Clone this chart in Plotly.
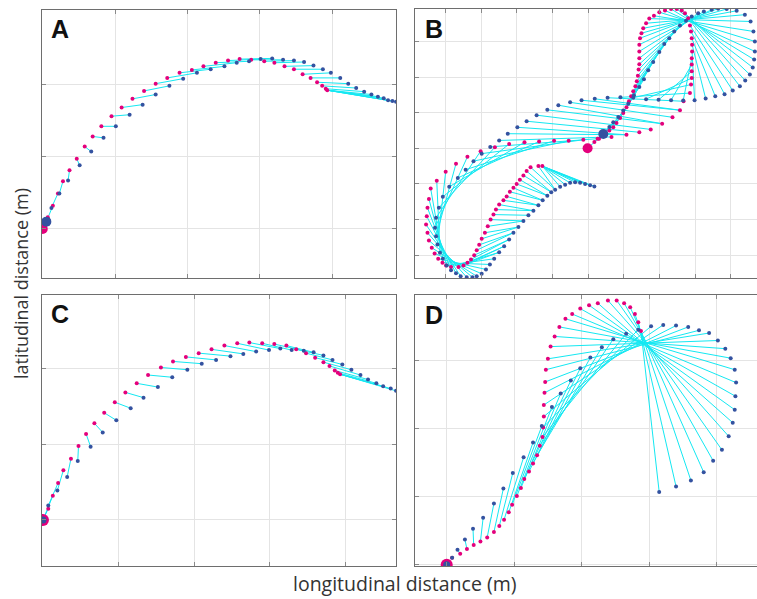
import plotly.graph_objects as go

# ---------------- Panel A ----------------
A_mag_x = [0.00,0.07,0.14,0.21,0.28,0.37,0.47,0.58,0.69,0.81,0.95,1.09,1.24,1.40,1.56,1.72,1.89,2.06,2.22,2.39,2.56,2.72,2.88,3.06,3.20,3.34,3.47,3.59,3.70,3.79,3.86,3.91,3.93]
A_mag_y = [0.00,0.16,0.32,0.49,0.66,0.81,0.97,1.14,1.28,1.42,1.56,1.68,1.80,1.91,2.01,2.09,2.16,2.20,2.25,2.30,2.33,2.35,2.34,2.32,2.30,2.25,2.21,2.14,2.09,2.03,1.98,1.94,1.92]
A_blu_x = [0.05,0.12,0.23,0.35,0.51,0.67,0.84,1.01,1.20,1.38,1.56,1.75,1.94,2.13,2.32,2.51,2.68,2.85,3.01,3.17,3.32,3.47,3.61,3.74,3.87,3.98,4.11,4.22,4.33,4.44,4.54,4.63,4.71,4.77,4.83,4.88]
A_blu_y = [0.10,0.29,0.49,0.67,0.88,1.07,1.26,1.42,1.58,1.72,1.86,1.98,2.08,2.16,2.21,2.25,2.30,2.32,2.35,2.36,2.34,2.33,2.31,2.26,2.21,2.16,2.09,2.01,1.95,1.90,1.86,1.83,1.81,1.78,1.77,1.76]
# sight-line pairing anchors: (magenta index, blue index)
A_pairs = [(0, 0), (2, 0), (32, 30), (32, 35)]

# ---------------- Panel B ----------------
B_mag_x = [-0.02,0.17,0.30,0.44,0.59,0.70,0.79,0.89,0.98,1.07,1.14,1.20,1.26,1.32,1.36,1.39,1.41,1.43,1.43,1.43,1.43,1.45,1.49,1.54,1.62,1.71,1.84,1.99,2.15,2.32,2.48,2.62,2.71,2.80,2.85,2.88,2.90,2.91,2.91,2.90,2.90,2.90,2.90,2.88,2.85,
           2.67,2.57,2.36,2.07,1.75,1.43,1.07,0.65,0.26,-0.14,-0.55,-0.96,-1.38,-1.79,-2.22,-2.62,-3.02,-3.39,-3.71,-4.00,-4.25,-4.42,
           -4.47,-4.51,-4.53,-4.55,-4.51,-4.47,-4.39,-4.31,-4.21,-4.09,-3.99,-3.85,-3.64,-3.50,-3.39,-3.29,-3.20,-3.13,-3.06,-2.99,-2.90,-2.82,-2.74,-2.66,-2.59,-2.50,-2.38,-2.29,-2.20,-2.10,-2.01,-1.92,-1.82,-1.73,-1.62,-1.40,-1.29]
B_mag_y = [0.00,0.18,0.27,0.38,0.50,0.59,0.71,0.85,0.99,1.15,1.32,1.46,1.60,1.74,1.88,2.04,2.21,2.36,2.53,2.72,2.91,3.09,3.23,3.37,3.51,3.64,3.72,3.82,3.87,3.91,3.91,3.87,3.79,3.65,3.45,3.28,3.09,2.91,2.72,2.53,2.35,2.16,1.97,1.79,1.55,
           1.32,1.07,0.87,0.69,0.53,0.45,0.38,0.32,0.27,0.24,0.21,0.21,0.19,0.17,0.12,0.03,-0.08,-0.24,-0.43,-0.66,-0.91,-1.13,
           -1.42,-1.67,-1.91,-2.14,-2.37,-2.59,-2.79,-2.95,-3.10,-3.21,-3.29,-3.33,-3.33,-3.29,-3.21,-3.12,-3.00,-2.86,-2.71,-2.54,-2.37,-2.19,-2.00,-1.86,-1.72,-1.58,-1.46,-1.35,-1.22,-1.11,-1.00,-0.88,-0.76,-0.64,-0.53,-0.50,-0.50]
B_blu_x = [0.42,0.59,0.70,0.84,0.98,1.12,1.28,1.43,1.56,1.68,1.82,1.99,2.13,2.27,2.41,2.57,2.74,
           2.90,3.08,3.24,3.46,3.64,3.88,4.16,4.39,4.55,4.63,4.67,4.67,4.65,4.61,4.53,4.40,4.25,4.05,3.82,3.56,3.29,2.98,
           2.66,2.32,1.97,1.62,1.26,0.90,0.54,0.18,-0.19,-0.51,
           -0.84,-1.15,-1.45,-1.73,-1.99,-2.26,-2.50,-2.75,-2.99,-3.22,-3.44,-3.66,-3.90,
           -4.08,-4.19,-4.27,-4.30,-4.27,-4.23,-4.16,-4.08,-3.97,-3.85,-3.71,-3.58,-3.41,-3.25,-3.13,-2.99,-2.87,-2.76,-2.64,-2.50,-2.36,-2.22,-2.10,-1.96,-1.82,-1.68,-1.54,-1.40,-1.28,-1.15,-1.04,-0.93,-0.79,-0.65,-0.51,-0.37,-0.23,-0.09,0.05,0.17]
B_blu_y = [0.40,0.60,0.73,0.88,1.06,1.25,1.49,1.72,1.94,2.19,2.42,2.70,2.93,3.09,3.28,3.45,3.58,
           3.70,3.79,3.84,3.89,3.92,3.91,3.86,3.75,3.56,3.28,3.00,2.72,2.49,2.27,2.07,1.90,1.74,1.62,1.52,1.46,1.40,1.35,
           1.34,1.35,1.36,1.38,1.42,1.43,1.42,1.39,1.35,1.29,
           1.21,1.08,0.93,0.76,0.59,0.41,0.22,0.04,-0.15,-0.36,-0.60,-0.83,-1.08,
           -1.36,-1.67,-1.95,-2.23,-2.47,-2.70,-2.93,-3.10,-3.29,-3.42,-3.51,-3.59,-3.62,-3.62,-3.59,-3.52,-3.40,-3.26,-3.10,-2.92,-2.75,-2.56,-2.37,-2.21,-2.04,-1.88,-1.75,-1.60,-1.46,-1.33,-1.23,-1.16,-1.08,-1.02,-0.97,-0.95,-0.97,-1.00,-1.04,-1.07]
B_pairs = [(0, 0), (30, 30), (45, 45), (52, 55), (77, 80), (103, 94), (103, 101)]

# ---------------- Panel C ----------------
C_mag_x = [0.00,0.07,0.13,0.20,0.27,0.37,0.47,0.57,0.68,0.81,0.95,1.09,1.24,1.39,1.56,1.72,1.89,2.06,2.23,2.40,2.57,2.73,2.90,3.06,3.22,3.35,3.48,3.60,3.71,3.79,3.86,3.90,3.93]
C_mag_y = [0.00,0.15,0.32,0.49,0.66,0.81,0.98,1.14,1.28,1.42,1.56,1.69,1.81,1.92,2.02,2.10,2.16,2.21,2.26,2.31,2.34,2.35,2.34,2.33,2.31,2.26,2.21,2.15,2.09,2.04,1.98,1.95,1.93]
C_blu_x = [0.00,0.07,0.19,0.32,0.46,0.63,0.79,0.97,1.16,1.33,1.52,1.71,1.91,2.10,2.29,2.48,2.65,2.82,2.99,3.14,3.29,3.45,3.58,3.71,3.83,3.96,4.08,4.20,4.30,4.41,4.50,4.60,4.67]
C_blu_y = [0.00,0.19,0.39,0.57,0.78,0.97,1.16,1.32,1.48,1.62,1.76,1.89,1.99,2.07,2.12,2.17,2.20,2.23,2.25,2.27,2.25,2.24,2.22,2.18,2.12,2.06,1.99,1.92,1.86,1.81,1.77,1.74,1.71]
C_pairs = [(0, 0), (2, 0), (32, 30), (32, 32)]

# ---------------- Panel D ----------------
D_mag_x = [0.00,0.08,0.20,0.30,0.40,0.50,0.60,0.70,0.78,0.85,0.92,0.97,1.04,1.10,1.15,1.22,1.28,1.34,1.38,1.42,1.43,1.44,1.44,1.45,1.46,1.47,1.50,1.54,1.60,1.67,1.76,1.86,1.98,2.11,2.24,2.39,2.52,2.63,2.72,2.79,2.84,2.88]
D_mag_y = [0.00,0.10,0.16,0.23,0.29,0.34,0.40,0.48,0.57,0.66,0.77,0.88,1.01,1.13,1.26,1.37,1.49,1.61,1.75,1.88,2.02,2.18,2.35,2.53,2.69,2.87,3.03,3.21,3.36,3.50,3.62,3.69,3.77,3.82,3.85,3.89,3.89,3.85,3.79,3.69,3.57,3.44]
D_blu_x = [0.00,0.08,0.16,0.27,0.39,0.54,0.70,0.84,0.98,1.14,1.28,1.41,1.56,1.69,1.84,1.98,2.13,2.30,2.47,2.66,2.84,3.03,3.21,3.40,3.58,3.74,3.89,4.02,4.13,4.21,4.27,4.29,4.28,4.27,4.24,4.18,4.08,3.95,3.81,3.62,3.40,3.15]
D_blu_y = [0.00,0.10,0.22,0.37,0.53,0.69,0.90,1.12,1.35,1.58,1.80,2.04,2.32,2.52,2.71,2.89,3.05,3.20,3.32,3.40,3.46,3.51,3.53,3.52,3.50,3.45,3.41,3.30,3.18,3.04,2.87,2.68,2.48,2.28,2.09,1.89,1.69,1.53,1.36,1.24,1.15,1.07]
D_pairs = [(0, 0), (41, 41)]

MAG = "rgb(228,0,124)"
BLU = "rgb(52,82,160)"
CYA = "rgb(20,232,242)"

W, H = 757, 599
def px_dom_x(a, b):
    return [a / W, b / W]
def px_dom_y(top, bot):
    return [1 - bot / H, 1 - top / H]

def expand_pairs(anchors):
    out = []
    for (m0, b0), (m1, b1) in zip(anchors[:-1], anchors[1:]):
        n = max(abs(m1 - m0), abs(b1 - b0))
        for s in range(n):
            out.append((round(m0 + (m1 - m0) * s / n), round(b0 + (b1 - b0) * s / n)))
    out.append(anchors[-1])
    return out

panels = [
    ("A", A_mag_x, A_mag_y, A_blu_x, A_blu_y, A_pairs, px_dom_x(42, 396), px_dom_y(10, 278),
     [-0.01, 4.88], [-0.68, 3.03], [1, 2, 3, 4], [0, 1, 2], "sep", (60, 29), True),
    ("B", B_mag_x, B_mag_y, B_blu_x, B_blu_y, B_pairs, px_dom_x(415, 757), px_dom_y(9, 278),
     [-4.86, 4.73], [-3.64, 3.91], [-4, -3, -2, -1, 0, 1, 2, 3, 4], [-3, -2, -1, 0, 1, 2, 3], "sep", (434, 29), False),
    ("C", C_mag_x, C_mag_y, C_blu_x, C_blu_y, C_pairs, px_dom_x(42, 396), px_dom_y(295, 566),
     [-0.013, 4.67], [-0.61, 2.98], [1, 2, 3, 4], [0, 1, 2], "ring", (60, 314), True),
    ("D", D_mag_x, D_mag_y, D_blu_x, D_blu_y, D_pairs, px_dom_x(415, 757), px_dom_y(295, 566),
     [-0.47, 4.6], [-0.02, 3.97], [0, 1, 2, 3, 4], [0, 1, 2, 3], "ring", (434, 315), False),
]

fig = go.Figure()
layout = {}
annotations = []
for k, (name, mx, my, bx, by, anchors, xd, yd, xr, yr, xt, yt, style, lpos, rbox) in enumerate(panels):
    i = k + 1
    xa = "x" if i == 1 else f"x{i}"
    ya = "y" if i == 1 else f"y{i}"
    lx, ly = [], []
    for (a, b) in expand_pairs(anchors):
        lx += [mx[a], bx[b], None]
        ly += [my[a], by[b], None]
    fig.add_trace(go.Scatter(x=lx, y=ly, mode="lines", line=dict(color=CYA, width=1),
                             xaxis=xa, yaxis=ya, hoverinfo="skip"))
    fig.add_trace(go.Scatter(x=mx, y=my, mode="markers", marker=dict(color=MAG, size=4),
                             xaxis=xa, yaxis=ya))
    fig.add_trace(go.Scatter(x=bx, y=by, mode="markers", marker=dict(color=BLU, size=4),
                             xaxis=xa, yaxis=ya))
    if style == "sep":
        fig.add_trace(go.Scatter(x=[mx[0]], y=[my[0]], mode="markers",
                                 marker=dict(color=MAG, size=10), xaxis=xa, yaxis=ya))
        fig.add_trace(go.Scatter(x=[bx[0]], y=[by[0]], mode="markers",
                                 marker=dict(color=BLU, size=10), xaxis=xa, yaxis=ya))
    else:
        fig.add_trace(go.Scatter(x=[mx[0]], y=[my[0]], mode="markers",
                                 marker=dict(color=MAG, size=12), xaxis=xa, yaxis=ya))
        fig.add_trace(go.Scatter(x=[bx[0]], y=[by[0]], mode="markers",
                                 marker=dict(color=BLU, size=7), xaxis=xa, yaxis=ya))
    common = dict(showgrid=True, gridcolor="#e4e4e4", gridwidth=1, zeroline=False,
                  showline=True, linecolor="#6e6e6e", linewidth=1,
                  ticks="inside", ticklen=4, tickcolor="#8a8a8a", showticklabels=False,
                  tickmode="array")
    layout["xaxis" if i == 1 else f"xaxis{i}"] = dict(common, domain=xd, range=xr, tickvals=xt,
                                                      anchor=ya, mirror="ticks")
    layout["yaxis" if i == 1 else f"yaxis{i}"] = dict(common, domain=yd, range=yr, tickvals=yt,
                                                      anchor=xa, mirror="ticks" if rbox else False)
    annotations.append(dict(text=f"<b>{name}</b>", x=lpos[0] / W, y=1 - lpos[1] / H,
                            xref="paper", yref="paper", showarrow=False,
                            xanchor="center", yanchor="middle",
                            font=dict(family="Liberation Sans, Arial", size=25, color="#111")))

annotations.append(dict(text="latitudinal distance (m)", x=21 / W, y=1 - 284 / H, xref="paper",
                        yref="paper", showarrow=False, textangle=-90, xanchor="center",
                        yanchor="middle", font=dict(family="Open Sans", size=18, color="#333")))
annotations.append(dict(text="longitudinal distance (m)", x=405 / W, y=1 - 583 / H, xref="paper",
                        yref="paper", showarrow=False, xanchor="center", yanchor="middle",
                        font=dict(family="Open Sans", size=19.5, color="#333")))

fig.update_layout(width=W, height=H, margin=dict(l=0, r=0, t=0, b=0), showlegend=False,
                  plot_bgcolor="white", paper_bgcolor="white", annotations=annotations, **layout)
fig.write_html("out.html")
